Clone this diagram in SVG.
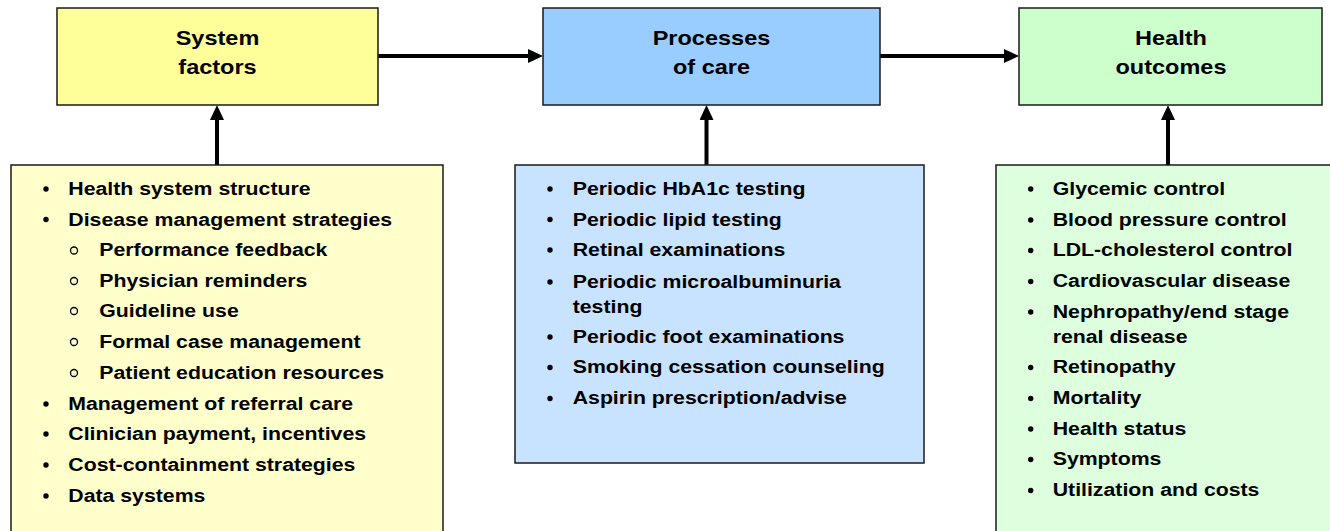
<svg xmlns="http://www.w3.org/2000/svg" width="1330" height="531" viewBox="0 0 1330 531">
<style>
.box{stroke:#1a1a1a;stroke-width:1.5}
.t{font-family:"Liberation Sans",Arial,sans-serif;font-weight:bold;fill:#000}
.title{font-size:21px;text-anchor:middle}
.li{font-size:19px}
.dot{fill:#000}
.ring{fill:none;stroke:#000;stroke-width:1.3}
.conn{stroke:#000;stroke-width:4;fill:none}
</style>
<defs>
<marker id="ah" markerUnits="userSpaceOnUse" markerWidth="16" markerHeight="16" refX="7" refY="7" orient="auto">
<path d="M0,0 L15,7 L0,14 Z" fill="#000"/>
</marker>
</defs>
<rect width="1330" height="531" fill="#fff"/>

<g id="connectors">
<line class="conn" x1="378" y1="56" x2="535" y2="56" marker-end="url(#ah)"/>
<line class="conn" x1="880" y1="56" x2="1011" y2="56" marker-end="url(#ah)"/>
<line class="conn" x1="217" y1="165" x2="217" y2="113" marker-end="url(#ah)"/>
<line class="conn" x1="706.5" y1="165" x2="706.5" y2="113" marker-end="url(#ah)"/>
<line class="conn" x1="1168" y1="165" x2="1168" y2="113" marker-end="url(#ah)"/>
</g>

<g id="system-factors">
<rect class="box" x="57" y="8" width="321" height="97" fill="#FFFF99"/>
<g transform="translate(217.5,0) scale(1.12,1)">
<text class="t title" x="0" y="45">System</text>
<text class="t title" x="0" y="74">factors</text>
</g>
</g>

<g id="processes-of-care">
<rect class="box" x="543" y="8" width="337" height="97" fill="#99CCFF"/>
<g transform="translate(711.5,0) scale(1.12,1)">
<text class="t title" x="0" y="45">Processes</text>
<text class="t title" x="0" y="74">of care</text>
</g>
</g>

<g id="health-outcomes">
<rect class="box" x="1019" y="8" width="303" height="97" fill="#CCFFCC"/>
<g transform="translate(1171,0) scale(1.12,1)">
<text class="t title" x="0" y="45">Health</text>
<text class="t title" x="0" y="74">outcomes</text>
</g>
</g>

<g id="system-factors-list">
<rect class="box" x="11" y="165" width="432" height="380" fill="#FFFFCC"/>
<circle class="dot" cx="46" cy="189" r="2.7"/>
<circle class="dot" cx="46" cy="219.5" r="2.7"/>
<circle class="ring" cx="74" cy="250.5" r="3.5"/>
<circle class="ring" cx="74" cy="281" r="3.5"/>
<circle class="ring" cx="74" cy="311" r="3.5"/>
<circle class="ring" cx="74" cy="342" r="3.5"/>
<circle class="ring" cx="74" cy="373" r="3.5"/>
<circle class="dot" cx="46" cy="404" r="2.7"/>
<circle class="dot" cx="46" cy="434" r="2.7"/>
<circle class="dot" cx="46" cy="465" r="2.7"/>
<circle class="dot" cx="46" cy="496" r="2.7"/>
<g transform="translate(68.3,0) scale(1.12,1)">
<text class="t li" x="0" y="195">Health system structure</text>
<text class="t li" x="0" y="225.7">Disease management strategies</text>
<text class="t li" x="27.7" y="256.5">Performance feedback</text>
<text class="t li" x="27.7" y="287">Physician reminders</text>
<text class="t li" x="27.7" y="317.3">Guideline use</text>
<text class="t li" x="27.7" y="348">Formal case management</text>
<text class="t li" x="27.7" y="379">Patient education resources</text>
<text class="t li" x="0" y="410">Management of referral care</text>
<text class="t li" x="0" y="440">Clinician payment, incentives</text>
<text class="t li" x="0" y="470.7">Cost-containment strategies</text>
<text class="t li" x="0" y="501.7">Data systems</text>
</g>
</g>

<g id="processes-list">
<rect class="box" x="515" y="165" width="409" height="298" fill="#C8E3FF"/>
<circle class="dot" cx="550" cy="189" r="2.7"/>
<circle class="dot" cx="550" cy="219.5" r="2.7"/>
<circle class="dot" cx="550" cy="250" r="2.7"/>
<circle class="dot" cx="550" cy="282" r="2.7"/>
<circle class="dot" cx="550" cy="337" r="2.7"/>
<circle class="dot" cx="550" cy="367.5" r="2.7"/>
<circle class="dot" cx="550" cy="398.5" r="2.7"/>
<g transform="translate(572.7,0) scale(1.12,1)">
<text class="t li" x="0" y="195">Periodic HbA1c testing</text>
<text class="t li" x="0" y="225.7">Periodic lipid testing</text>
<text class="t li" x="0" y="256">Retinal examinations</text>
<text class="t li" x="0" y="288">Periodic microalbuminuria</text>
<text class="t li" x="0" y="313">testing</text>
<text class="t li" x="0" y="343">Periodic foot examinations</text>
<text class="t li" x="0" y="373.5">Smoking cessation counseling</text>
<text class="t li" x="0" y="404.5">Aspirin prescription/advise</text>
</g>
</g>

<g id="health-outcomes-list">
<rect class="box" x="996" y="165" width="345" height="380" fill="#DDFFDD"/>
<circle class="dot" cx="1030.7" cy="189" r="2.7"/>
<circle class="dot" cx="1030.7" cy="220" r="2.7"/>
<circle class="dot" cx="1030.7" cy="250.5" r="2.7"/>
<circle class="dot" cx="1030.7" cy="281.5" r="2.7"/>
<circle class="dot" cx="1030.7" cy="312" r="2.7"/>
<circle class="dot" cx="1030.7" cy="367.5" r="2.7"/>
<circle class="dot" cx="1030.7" cy="398.5" r="2.7"/>
<circle class="dot" cx="1030.7" cy="429" r="2.7"/>
<circle class="dot" cx="1030.7" cy="459.5" r="2.7"/>
<circle class="dot" cx="1030.7" cy="490.5" r="2.7"/>
<g transform="translate(1052.7,0) scale(1.12,1)">
<text class="t li" x="0" y="195">Glycemic control</text>
<text class="t li" x="0" y="226">Blood pressure control</text>
<text class="t li" x="0" y="256.5">LDL-cholesterol control</text>
<text class="t li" x="0" y="287.5">Cardiovascular disease</text>
<text class="t li" x="0" y="318">Nephropathy/end stage</text>
<text class="t li" x="0" y="343">renal disease</text>
<text class="t li" x="0" y="373.5">Retinopathy</text>
<text class="t li" x="0" y="404.5">Mortality</text>
<text class="t li" x="0" y="435">Health status</text>
<text class="t li" x="0" y="465.5">Symptoms</text>
<text class="t li" x="0" y="496.5">Utilization and costs</text>
</g>
</g>
</svg>
